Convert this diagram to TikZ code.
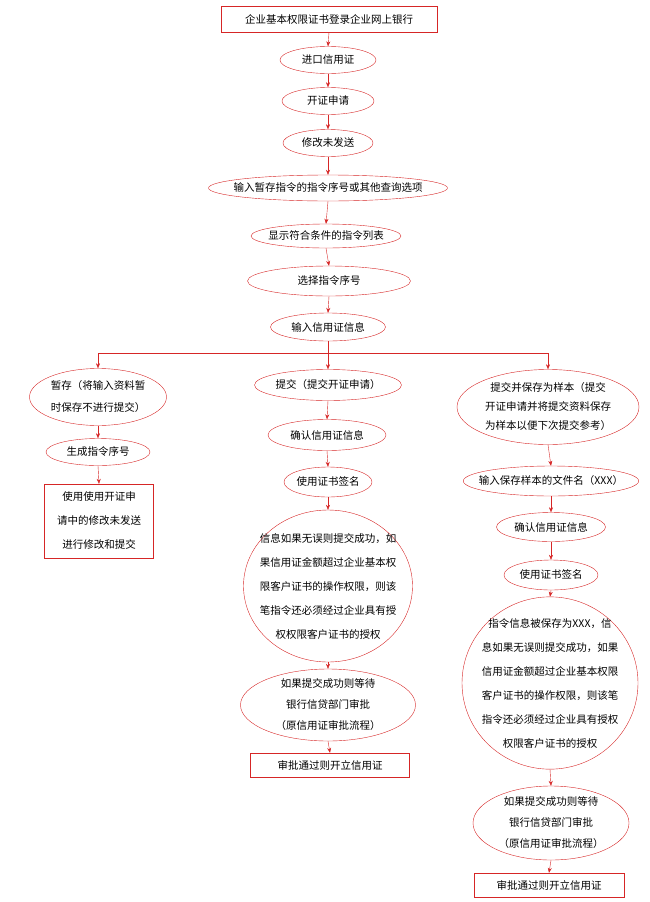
\documentclass[tikz,border=0pt]{standalone}
\usepackage{fontspec}
\setmainfont{Noto Sans CJK SC}
\usetikzlibrary{shapes.geometric,arrows.meta}
\definecolor{linered}{RGB}{214,38,38}
\tikzset{
  oval/.style={draw=linered,ellipse,inner xsep=-10pt,inner ysep=-4pt,align=center,font=\fontsize{10.5}{17}\selectfont},
  box/.style={draw=linered,rectangle,inner sep=0pt,align=center,font=\fontsize{10.5}{17}\selectfont},
  link/.style={draw=linered,-{Stealth[length=5pt,width=4pt]}}
}
\begin{document}
\begin{tikzpicture}[x=1pt,y=-1pt]
  \useasboundingbox (0,0) rectangle (650,902);

  % main column
  \node[box,minimum width=216,minimum height=26] (login) at (329,19) {企业基本权限证书登录企业网上银行};
  \node[oval,minimum width=96,minimum height=27] (imp) at (328,60) {进口信用证};
  \node[oval,minimum width=92,minimum height=27] (apply) at (328,101) {开证申请};
  \node[oval,minimum width=90,minimum height=27] (mod) at (328,143) {修改未发送};
  \node[oval,minimum width=236,minimum height=26] (query) at (328,188) {输入暂存指令的指令序号或其他查询选项};
  \node[oval,minimum width=150,minimum height=24] (list) at (326,236) {显示符合条件的指令列表};
  \node[oval,minimum width=163,minimum height=30] (sel) at (329,281) {选择指令序号};
  \node[oval,minimum width=115,minimum height=28] (info) at (328,327) {输入信用证信息};

  % left branch
  \node[oval,minimum width=137,minimum height=57,font=\fontsize{10.5}{22}\selectfont] (save) at (98,397) {暂存（将输入资料暂\\时保存不进行提交）};
  \node[oval,minimum width=104,minimum height=27] (num) at (98,452) {生成指令序号};
  \node[box,minimum width=109,minimum height=74,font=\fontsize{10.5}{24}\selectfont] (use) at (99,521) {使用使用开证申\\请中的修改未发送\\进行修改和提交};

  % middle branch
  \node[oval,minimum width=147,minimum height=31] (sub) at (328,385) {提交（提交开证申请）};
  \node[oval,minimum width=118,minimum height=31] (chk) at (327,435) {确认信用证信息};
  \node[oval,minimum width=88,minimum height=30] (sign) at (328,482) {使用证书签名};
  \node[oval,minimum width=169,minimum height=152,font=\fontsize{10.5}{24}\selectfont] (ok) at (328,586) {信息如果无误则提交成功，如\\果信用证金额超过企业基本权\\限客户证书的操作权限，则该\\笔指令还必须经过企业具有授\\权权限客户证书的授权};
  \node[oval,minimum width=175,minimum height=72,font=\fontsize{10.5}{21}\selectfont] (wait) at (328,705) {如果提交成功则等待\\银行信贷部门审批\\（原信用证审批流程）};
  \node[box,minimum width=159,minimum height=24] (open) at (330,765) {审批通过则开立信用证};

  % right branch
  \node[oval,minimum width=182,minimum height=75,font=\fontsize{10.5}{19}\selectfont] (samp) at (548,407) {提交并保存为样本（提交\\开证申请并将提交资料保存\\为样本以便下次提交参考）};
  \node[oval,minimum width=170,minimum height=30] (fname) at (551,481) {输入保存样本的文件名（XXX）};
  \node[oval,minimum width=109,minimum height=29] (chk2) at (551,527) {确认信用证信息};
  \node[oval,minimum width=94,minimum height=30] (sign2) at (551,575) {使用证书签名};
  \node[oval,minimum width=176,minimum height=163,font=\fontsize{10.5}{24}\selectfont] (ok2) at (550,683) {指令信息被保存为XXX，信\\息如果无误则提交成功，如果\\信用证金额超过企业基本权限\\客户证书的操作权限，则该笔\\指令还必须经过企业具有授权\\权限客户证书的授权};
  \node[oval,minimum width=156,minimum height=74,font=\fontsize{10.5}{21}\selectfont] (wait2) at (551,823) {如果提交成功则等待\\银行信贷部门审批\\（原信用证审批流程）};
  \node[box,minimum width=150,minimum height=24] (open2) at (549,885) {审批通过则开立信用证};

  % connectors
  \foreach \a/\b in {login/imp,imp/apply,apply/mod,mod/query,query/list,list/sel,sel/info,
      save/num,num/use,sub/chk,chk/sign,sign/ok,ok/wait,wait/open,
      samp/fname,fname/chk2,chk2/sign2,sign2/ok2,ok2/wait2,wait2/open2}
    \draw[link] (\a.south) -- (\b.north);
  \coordinate (fork) at (328,353);
  \draw[linered] (info.south) -- (fork);
  \draw[linered] (save.north |- fork) -- (samp.north |- fork);
  \draw[link] (save.north |- fork) -- (save.north);
  \draw[link] (fork) -- (sub.north);
  \draw[link] (samp.north |- fork) -- (samp.north);
\end{tikzpicture}
\end{document}
